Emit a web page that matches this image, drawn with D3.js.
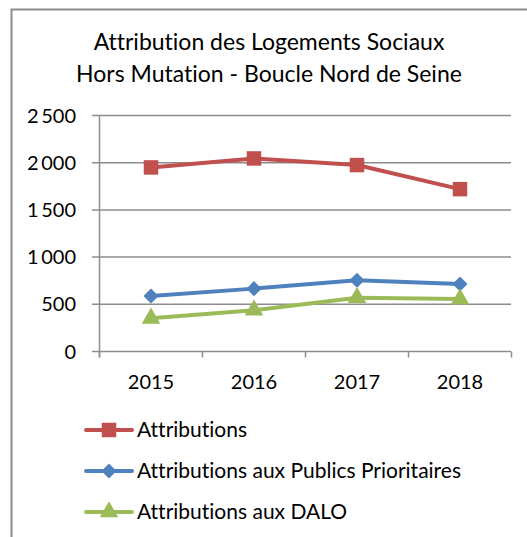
<!DOCTYPE html>
<html>
<head>
<meta charset="utf-8">
<script src="https://cdn.jsdelivr.net/npm/d3@7"></script>
<style>
  body { margin: 0; background: #fff; }
  svg { display: block; font-family: Lato, "Open Sans", sans-serif; font-variant-ligatures: none; }
</style>
</head>
<body>
<svg id="chart"></svg>
<script>
// Données
const years = ['2015', '2016', '2017', '2018'];
const attributions = [1950, 2045, 1975, 1720];
const prioritaires = [588, 666, 755, 715];
const dalo = [352, 438, 570, 555];
const yTicks = [0, 500, 1000, 1500, 2000, 2500];
const titleLines = ['Attribution des Logements Sociaux', 'Hors Mutation - Boucle Nord de Seine'];

const series = [
    { name: 'Attributions', values: attributions, color: '#C0504D', symbol: d3.symbolSquare, size: 210, rot: 0 },
    { name: 'Attributions aux Publics Prioritaires', values: prioritaires, color: '#4F81BD', symbol: d3.symbolSquare, size: 115, rot: 45 },
    { name: 'Attributions aux DALO', values: dalo, color: '#9BBB59', symbol: d3.symbolTriangle, size: 150, rot: 0 }
];

const width = 527, height = 537;
const svg = d3.select('#chart').attr('width', width).attr('height', height);

// Cadre extérieur (gauche + haut seulement visibles)
svg.append('path')
    .attr('d', `M11.5,${height} V9.5 H${width}`)
    .attr('fill', 'none')
    .attr('stroke', '#8c8c8c')
    .attr('stroke-width', 2);

// Titre
svg.append('g').selectAll('text')
    .data(titleLines)
    .join('text')
    .attr('x', 269)
    .attr('y', (d, i) => 50 + i * 32)
    .attr('text-anchor', 'middle')
    .attr('font-size', 23)
    .attr('fill', '#000')
    .text(d => d);

// Échelles
const x = d3.scaleBand().domain(years).range([99.5, 511.5]);
const y = d3.scaleLinear().domain([0, 2500]).range([351.5, 115.5]);

const fr = d3.formatLocale({ decimal: ',', thousands: '\u2009', grouping: [3], currency: ['', ' €'] });
const fmt = fr.format(',d');

// Grille
svg.append('g').selectAll('line')
    .data(yTicks)
    .join('line')
    .attr('x1', 92).attr('x2', 511)
    .attr('y1', d => y(d)).attr('y2', d => y(d))
    .attr('stroke', '#8c8c8c')
    .attr('stroke-width', 1.5);

// Axe Y
svg.append('line')
    .attr('x1', 99.5).attr('x2', 99.5)
    .attr('y1', y(2500)).attr('y2', y(0) + 6)
    .attr('stroke', '#8c8c8c').attr('stroke-width', 1.5);

svg.append('g').selectAll('text')
    .data(yTicks)
    .join('text')
    .attr('x', 76)
    .attr('y', d => y(d))
    .attr('dy', '0.35em')
    .attr('text-anchor', 'end')
    .attr('font-size', 20)
    .text(d => fmt(d));

// Axe X : graduations aux bords des catégories
const xEdges = years.map(d => x(d)).concat([x.range()[1]]);
svg.append('g').selectAll('line')
    .data(xEdges)
    .join('line')
    .attr('x1', d => d).attr('x2', d => d)
    .attr('y1', y(0)).attr('y2', y(0) + 6)
    .attr('stroke', '#8c8c8c').attr('stroke-width', 1.5);

svg.append('g').selectAll('text')
    .data(years)
    .join('text')
    .attr('x', d => x(d) + x.bandwidth() / 2)
    .attr('y', 389)
    .attr('text-anchor', 'middle')
    .attr('font-size', 20)
    .text(d => d);

// Séries
const line = d3.line()
    .x((d, i) => x(years[i]) + x.bandwidth() / 2)
    .y(d => y(d));

series.forEach(s => {
    svg.append('path')
        .datum(s.values)
        .attr('d', line)
        .attr('fill', 'none')
        .attr('stroke', s.color)
        .attr('stroke-width', 4)
        .attr('stroke-linejoin', 'round');

    svg.append('g').selectAll('path')
        .data(s.values)
        .join('path')
        .attr('transform', (d, i) => `translate(${x(years[i]) + x.bandwidth() / 2},${y(d)}) rotate(${s.rot})`)
        .attr('d', d3.symbol(s.symbol, s.size))
        .attr('fill', s.color);
});

// Légende
const legend = svg.append('g');
series.forEach((s, i) => {
    const ly = 430 + i * 41;
    const g = legend.append('g').attr('transform', `translate(0,${ly})`);
    g.append('line')
        .attr('x1', 86).attr('x2', 132)
        .attr('stroke', s.color)
        .attr('stroke-width', 4)
        .attr('stroke-linecap', 'round');
    g.append('path')
        .attr('transform', `translate(109,0) rotate(${s.rot})`)
        .attr('d', d3.symbol(s.symbol, s.size))
        .attr('fill', s.color);
    g.append('text')
        .attr('x', 137)
        .attr('dy', '0.35em')
        .attr('font-size', 21)
        .text(s.name);
});
</script>
</body>
</html>
